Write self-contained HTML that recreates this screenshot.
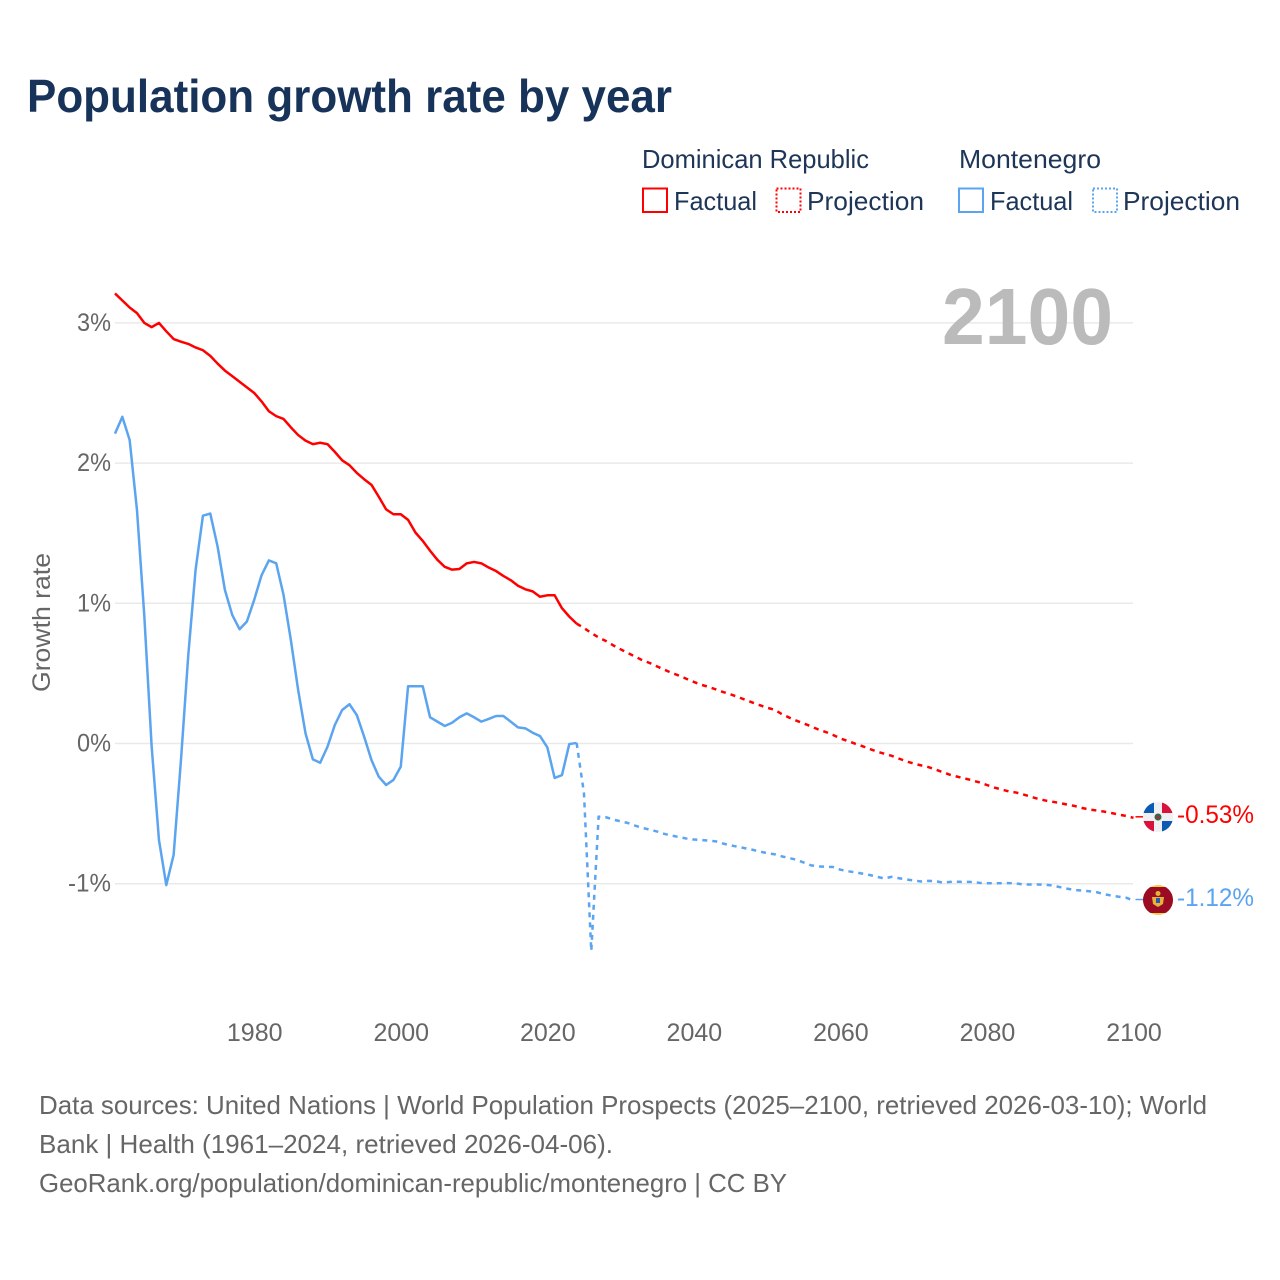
<!DOCTYPE html>
<html lang="en">
<head>
<meta charset="utf-8">
<title>Population growth rate by year</title>
<style>
html,body{margin:0;padding:0;background:#fff;width:1280px;height:1280px;overflow:hidden}
svg{display:block}
text{font-family:"Liberation Sans",sans-serif}
.legend{fill:#1d3557;font-size:26px}
.tick{fill:#666;font-size:25px}
.src{fill:#666;font-size:26px}
</style>
</head>
<body>
<svg id="chart" xmlns="http://www.w3.org/2000/svg" width="1280" height="1280" viewBox="0 0 1280 1280">
  <defs>
    <clipPath id="clip-do"><circle cx="1158" cy="817" r="15"/></clipPath>
    <clipPath id="clip-me"><circle cx="1158" cy="900" r="15"/></clipPath>
  </defs>
  <text x="27" y="112" font-size="46" font-weight="700" fill="#17335a" textLength="645" lengthAdjust="spacingAndGlyphs">Population growth rate by year</text>

  <g>
    <text class="legend" x="642" y="168" textLength="227" lengthAdjust="spacingAndGlyphs">Dominican Republic</text>
    <text class="legend" x="959" y="168" textLength="142" lengthAdjust="spacingAndGlyphs">Montenegro</text>
    <g>
      <rect x="643" y="188.5" width="24" height="23.5" fill="none" stroke="#ff0000" stroke-width="2"/>
      <text class="legend" x="674" y="210" textLength="83" lengthAdjust="spacingAndGlyphs">Factual</text>
    </g>
    <g>
      <rect x="776.5" y="188.5" width="24" height="23.5" fill="none" stroke="#ff0000" stroke-width="2" stroke-dasharray="2 2"/>
      <text class="legend" x="807" y="210" textLength="117" lengthAdjust="spacingAndGlyphs">Projection</text>
    </g>
    <g>
      <rect x="959" y="188.5" width="24" height="23.5" fill="none" stroke="#5ba4f0" stroke-width="2"/>
      <text class="legend" x="990" y="210" textLength="83" lengthAdjust="spacingAndGlyphs">Factual</text>
    </g>
    <g>
      <rect x="1093" y="188.5" width="24" height="23.5" fill="none" stroke="#5ba4f0" stroke-width="2" stroke-dasharray="2 2"/>
      <text class="legend" x="1123" y="210" textLength="117" lengthAdjust="spacingAndGlyphs">Projection</text>
    </g>
  </g>

  <g id="grid"></g>
  <g id="yticks"></g>
  <g id="xticks"></g>

  <text x="942" y="344" font-size="80" font-weight="700" fill="#bbbbbb" textLength="171" lengthAdjust="spacingAndGlyphs">2100</text>

  <text transform="translate(50 692) rotate(-90)" x="0" y="0" font-size="25" fill="#666" textLength="139" lengthAdjust="spacingAndGlyphs">Growth rate</text>

  <g id="series"></g>

  <g clip-path="url(#clip-do)">
    <rect x="1143" y="802" width="30" height="30" fill="#f0f0f2"/>
    <rect x="1143" y="802" width="11" height="11" fill="#0b5bb5"/>
    <rect x="1162" y="802" width="11" height="11" fill="#d8123a"/>
    <rect x="1143" y="821" width="11" height="11" fill="#d8123a"/>
    <rect x="1162" y="821" width="11" height="11" fill="#0b5bb5"/>
    <circle cx="1158" cy="817" r="3.5" fill="#2f6b4a"/>
    <circle cx="1158" cy="817" r="1.6" fill="#b5233c"/>
  </g>
  <g clip-path="url(#clip-me)">
    <rect x="1143" y="885" width="30" height="30" fill="#f2cf4e"/>
    <rect x="1143" y="887" width="30" height="26" fill="#9c0b24"/>
    <path d="M1152 897h12l-1 7-5 3-5-3z" fill="#e2b53a"/>
    <circle cx="1158" cy="893.5" r="2.5" fill="#e2b53a"/>
    <rect x="1156" y="898" width="4" height="5" fill="#2b5aa8"/>
  </g>

  <text x="1177" y="823" font-size="25" fill="#ff0000" textLength="77" lengthAdjust="spacingAndGlyphs">-0.53%</text>
  <text x="1177" y="906" font-size="25" fill="#5ba4f0" textLength="77" lengthAdjust="spacingAndGlyphs">-1.12%</text>

  <g>
    <text class="src" x="39" y="1114" textLength="1168" lengthAdjust="spacingAndGlyphs">Data sources: United Nations | World Population Prospects (2025–2100, retrieved 2026-03-10); World</text>
    <text class="src" x="39" y="1153" textLength="574" lengthAdjust="spacingAndGlyphs">Bank | Health (1961–2024, retrieved 2026-04-06).</text>
    <text class="src" x="39" y="1192" textLength="748" lengthAdjust="spacingAndGlyphs">GeoRank.org/population/dominican-republic/montenegro | CC BY</text>
  </g>
</svg>
<script>
const yTickValues = [3, 2, 1, 0, -1];
const xTickValues = [1980, 2000, 2020, 2040, 2060, 2080, 2100];

const factualStartYear = 1961;
const projectionStartYear = 2024;

const domFactual = [3.21,3.16,3.11,3.07,3.00,2.97,3.00,2.94,2.885,2.866,2.85,2.825,2.805,2.765,2.71,2.66,2.62,2.58,2.54,2.50,2.44,2.37,2.335,2.315,2.255,2.20,2.16,2.135,2.145,2.135,2.08,2.02,1.985,1.93,1.885,1.845,1.76,1.67,1.635,1.635,1.595,1.505,1.445,1.375,1.31,1.26,1.24,1.245,1.285,1.295,1.285,1.255,1.23,1.195,1.165,1.125,1.10,1.085,1.047,1.057,1.057,0.965,0.905,0.855];

const domProjection = [0.855,0.824,0.788,0.756,0.731,0.70,0.672,0.645,0.62,0.593,0.574,0.549,0.526,0.503,0.484,0.461,0.439,0.419,0.404,0.386,0.367,0.351,0.332,0.312,0.292,0.273,0.255,0.241,0.21,0.185,0.163,0.143,0.122,0.10,0.082,0.061,0.036,0.018,-0.001,-0.019,-0.039,-0.058,-0.073,-0.088,-0.108,-0.127,-0.143,-0.156,-0.168,-0.186,-0.205,-0.224,-0.237,-0.25,-0.263,-0.278,-0.296,-0.314,-0.328,-0.342,-0.35,-0.364,-0.38,-0.395,-0.407,-0.416,-0.425,-0.436,-0.446,-0.46,-0.471,-0.478,-0.486,-0.496,-0.507,-0.517,-0.53];

const mneFactual = [2.21,2.33,2.165,1.665,0.91,-0.02,-0.688,-1.01,-0.795,-0.12,0.63,1.24,1.625,1.64,1.405,1.095,0.917,0.815,0.87,1.025,1.20,1.306,1.285,1.06,0.738,0.38,0.073,-0.113,-0.137,-0.023,0.132,0.239,0.28,0.203,0.049,-0.118,-0.237,-0.296,-0.26,-0.165,0.408,0.408,0.408,0.187,0.156,0.125,0.148,0.187,0.215,0.187,0.156,0.175,0.196,0.196,0.156,0.115,0.108,0.077,0.053,-0.027,-0.246,-0.225,-0.004,0.004];

const mneProjection = [0.004,-0.353,-1.48,-0.522,-0.526,-0.543,-0.555,-0.567,-0.586,-0.602,-0.615,-0.628,-0.645,-0.657,-0.668,-0.678,-0.685,-0.688,-0.693,-0.698,-0.714,-0.726,-0.737,-0.747,-0.758,-0.771,-0.782,-0.79,-0.805,-0.817,-0.829,-0.849,-0.869,-0.877,-0.879,-0.881,-0.90,-0.911,-0.919,-0.928,-0.938,-0.951,-0.963,-0.951,-0.961,-0.97,-0.977,-0.984,-0.98,-0.981,-0.993,-0.987,-0.986,-0.987,-0.988,-0.994,-0.997,-0.997,-0.997,-0.996,-0.998,-1.006,-1.006,-1.006,-1.008,-1.013,-1.025,-1.036,-1.045,-1.049,-1.054,-1.061,-1.075,-1.085,-1.093,-1.10,-1.12];

const NS = 'http://www.w3.org/2000/svg';
function xScale(year) { return 115 + (year - 1961) * (1133.5 - 115) / (2100 - 1961); }
function yScale(v) { return 743.5 - v * 140.2; }
function linePath(values, startYear) {
  return values.map(function (v, i) {
    return (i ? 'L' : 'M') + xScale(startYear + i).toFixed(2) + ' ' + yScale(v).toFixed(2);
  }).join('');
}

const gridG = document.getElementById('grid');
const yG = document.getElementById('yticks');
yTickValues.forEach(function (t) {
  const gl = document.createElementNS(NS, 'line');
  
  
  gl.setAttribute('x1', 115);
  gl.setAttribute('x2', 1133);
  gl.setAttribute('y1', yScale(t));
  gl.setAttribute('y2', yScale(t));
  gl.setAttribute('stroke', '#e9e9e9');
  gl.setAttribute('stroke-width', '1.5');
  gridG.appendChild(gl);
  const lb = document.createElementNS(NS, 'text');
  
  
  lb.setAttribute('class', 'tick');
  lb.setAttribute('x', t < 0 ? 68 : 77);
  lb.setAttribute('y', yScale(t) + 8);
  lb.setAttribute('textLength', t < 0 ? 43 : 34);
  lb.setAttribute('lengthAdjust', 'spacingAndGlyphs');
  lb.textContent = t + '%';
  yG.appendChild(lb);
});

const xG = document.getElementById('xticks');
xTickValues.forEach(function (t) {
  const lb = document.createElementNS(NS, 'text');
  
  
  lb.setAttribute('class', 'tick');
  lb.setAttribute('x', xScale(t) + 0.5);
  lb.setAttribute('y', 1041);
  lb.setAttribute('text-anchor', 'middle');
  lb.textContent = t;
  xG.appendChild(lb);
});

const seriesG = document.getElementById('series');
function addLine(name, values, startYear, color, dash) {
  const p = document.createElementNS(NS, 'path');
  
  
  p.setAttribute('d', linePath(values, startYear));
  p.setAttribute('fill', 'none');
  p.setAttribute('stroke', color);
  p.setAttribute('stroke-width', '2.5');
  p.setAttribute('stroke-linejoin', 'round');
  if (dash) { p.setAttribute('stroke-dasharray', dash); }
  seriesG.appendChild(p);
}
function addConnector(name, lastValue, color) {
  const c = document.createElementNS(NS, 'line');
  
  
  c.setAttribute('x1', xScale(2100) + 2);
  c.setAttribute('x2', 1143);
  c.setAttribute('y1', yScale(lastValue) - 1);
  c.setAttribute('y2', yScale(lastValue) - 1);
  c.setAttribute('stroke', color);
  c.setAttribute('stroke-width', '1.5');
  seriesG.appendChild(c);
}
addLine('dominican-republic-factual-line', domFactual, factualStartYear, '#ff0000', null);
addLine('dominican-republic-projection-line', domProjection, projectionStartYear, '#ff0000', '5 5');
addLine('montenegro-factual-line', mneFactual, factualStartYear, '#5ba4f0', null);
addLine('montenegro-projection-line', mneProjection, projectionStartYear, '#5ba4f0', '5 5');
addConnector('dominican-republic-end-connector', domProjection[domProjection.length - 1], '#ff0000');
addConnector('montenegro-end-connector', mneProjection[mneProjection.length - 1], '#5ba4f0');
</script>
</body>
</html>
